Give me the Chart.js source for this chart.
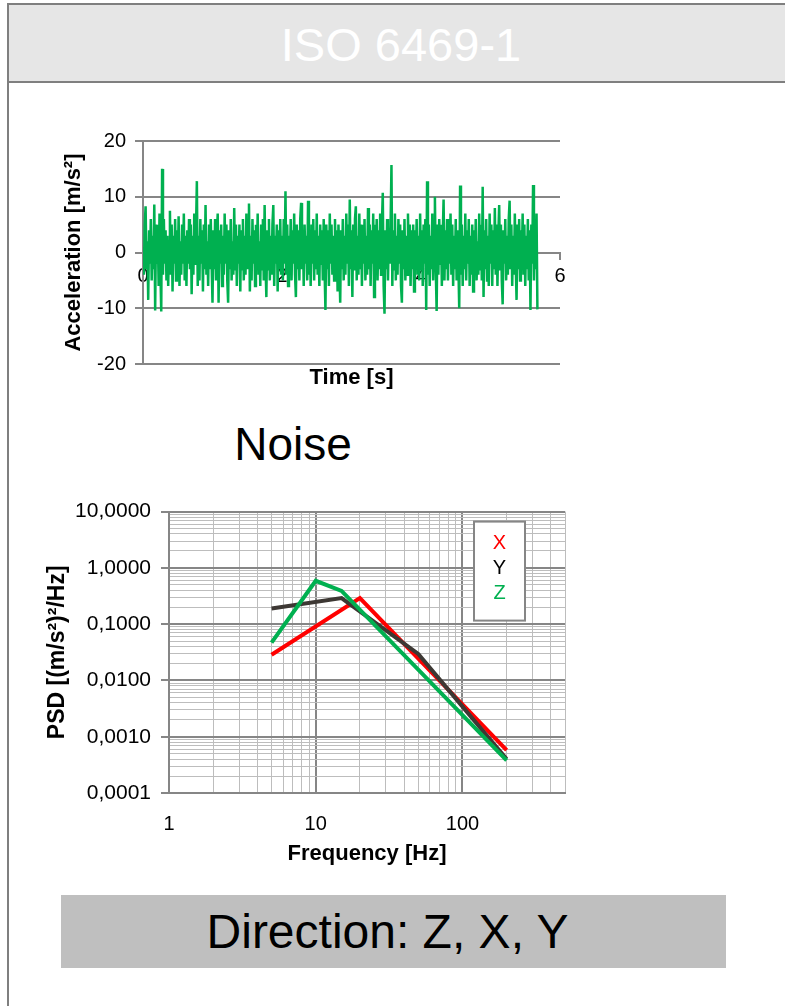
<!DOCTYPE html>
<html>
<head>
<meta charset="utf-8">
<script src="https://cdn.jsdelivr.net/npm/chart.js@4.4.1/dist/chart.umd.min.js"></script>
<style>
body { margin: 0; width: 785px; height: 1006px; overflow: hidden; background: #fff; font-family: "Liberation Sans", Arial, sans-serif; position: relative; }
#frame { position: absolute; left: 7px; top: 3px; width: 800px; height: 1010px; border-left: 2px solid #7f7f7f; border-top: 2px solid #7f7f7f; }
#head { position: absolute; left: 9px; top: 5px; width: 784px; padding-right: 6px; height: 76px; background: #e6e6e6; border-bottom: 2px solid #7f7f7f; color: #fff; font-size: 47px; line-height: 80px; text-align: center; }
#noise { position: absolute; left: 143px; top: 417px; width: 300px; text-align: center; font-size: 46px; color: #000; }
#dir { position: absolute; left: 61px; top: 895px; width: 653px; padding-right: 12px; height: 73px; background: #bfbfbf; font-size: 48px; line-height: 73px; text-align: center; color: #000; }
#timeChart { position: absolute; left: 57px; top: 120px; }
#psdChart { position: absolute; left: 40px; top: 489px; }
</style>
</head>
<body>
<div id="frame"></div>
<div id="head">ISO 6469-1</div>
<canvas id="timeChart" width="518" height="274"></canvas>
<div id="noise">Noise</div>
<canvas id="psdChart" width="544" height="382"></canvas>
<div id="dir">Direction: Z, X, Y</div>

<script>
// DONNEES : SIGNAL TEMPOREL (echantillons tous les 0,0125 s)
var sampleStep = 0.0125;
var accel = [
    1, -4, 5, 8.3, -3, 2, -8.5, 4, -2, 6,
    -5, 3, -3, 8.6, -10.4, 5, -2, 4, -6, 7,
    -3, -10.6, 15, -4, 6, -2, 4, -5, 3, -6,
    2, 7.5, -4, 5, -7, 3, -2, 6, -5, 4,
    -3, 6.5, -6, 2, -4, 5, -2, 7, -5, 3,
    -6, 4, -2, 6, -3, 5, -7.5, 3, -4, 7,
    -2, 4, 12.8, -6, 3, -5, 6, -2, 4, -7,
    5, -3, 8.5, -4, 2, -6, 5, -3, 6, -2,
    -9, 4, -3, 6, -5, 3, 7, -9, 4, -2,
    5, -6, 3, -4, 7, -2, 5, -5, -9, 4,
    -3, 6, -5, 2, -4, 8, -3, 5, -6, 3,
    -2, 5, -7, 4, -3, 6, -5, 3, -4, 7,
    -3, 4, 8.8, -7, 3, -5, 6, -2, 4, -6,
    5, -3, 7, -4, 2, -6, 5, -3, 6, -5,
    8.5, -2, -8, 4, -3, 6, -5, 3, -4, 5,
    8.5, -6, 3, -2, 5, -7, 4, -3, 6, -4,
    3, -5, 6, -2, 11, -4, 5, -6, 3, -3,
    6, -5, 4, -2, 7, -4, -8, 5, -3, 4,
    -5, 6, 8.9, -3, 4, -6, 5, -2, 3, -5,
    9.3, -4, 3, -6, 5, -2, 6, -5, 4, -3,
    7, -4, 3, -6, 5, -2, 4, -5, 6, -3,
    -10.3, 5, -3, 4, -6, 7, -2, 5, -4, 3,
    -5, 6, -3, 4, -7, 5, -2, -9, 4, -3,
    6, -5, 3, -4, 7, -2, 5, -6, 9.5, -3,
    4, -8, 5, -3, 6, 8.3, -5, 3, -4, 7,
    -3, 5, -6, 4, -2, 6, -5, 3, -4, 8,
    -3, 5, -6, 4, -2, 7, -8, 5, -3, 6,
    -5, 4, -3, 7, -4, 5, 10.7, -6, -11, 4,
    -3, 6, -5, 4, -2, 5, 15.7, -6, 4, -3,
    7, -5, 3, -4, 6, -2, 5, -6, -9, 4,
    -3, 6, -5, 3, -4, 7, -2, 5, -6, 4,
    -3, 5, -7, 4, -2, 6, -4, 3, -5, 7,
    -3, 4, -6, 5, -2, 6, -10.3, 12.8, -4, 5,
    -6, 3, -3, 7, -5, 4, 10, -3, -10.5, 5,
    -4, 6, -2, 5, -6, 3, 9.5, -5, 4, -3,
    6, -5, 3, -2, 7, -4, 5, -6, 3, -3,
    6, -5, 4, -2, -10, 12, -4, 5, -6, 3,
    -3, 7, -5, 4, -2, 6, -6, 3, -4, 5,
    -7, 4, -3, 6, -5, 2, -4, 7, -3, 5,
    -5, 11.8, -8, 4, -3, 6, -5, 3, -6, 7,
    -2, 5, -6, 4, -3, 8, -4, 5, -6, 3,
    8.5, -3, 5, -5, -9.3, 4, -2, 6, -5, 3,
    -4, 6, 9.3, -3, 5, -6, 3, -4, 7, -2,
    -8.5, 5, -3, 6, -5, 4, -2, 7, -4, 5,
    -6, 3, -3, 6, -5, 4, -10.3, 5, -2, 12.1,
    -5, 4, -3, 7, -10.2
];

// DONNEES : PSD
var freqX = [5, 20, 200];
var psdX = [0.0286, 0.29, 0.00058];
var freqY = [5, 15, 50, 200];
var psdY = [0.19, 0.29, 0.0295, 0.0004];
var freqZ = [5, 10, 15, 200];
var psdZ = [0.047, 0.59, 0.39, 0.00038];

var psdDecades = [0.0001, 0.001, 0.01, 0.1, 1, 10];
var psdLabels = ["0,0001", "0,0010", "0,0100", "0,1000", "1,0000", "10,0000"];
var freqDecades = [1, 10, 100];
var freqLabels = ["1", "10", "100"];
var freqMax = 500;

Chart.defaults.font.family = "'Liberation Sans', Arial, sans-serif";
Chart.defaults.color = "#000";

var gris = "#868686";
var grisClair = "#bdbdbd";

function toPoints(xs, ys) {
    var pts = [];
    for (var i = 0; i < xs.length; i++) {
        pts.push({ x: xs[i], y: ys[i] });
    }
    return pts;
}

var timePts = [];
for (var i = 0; i < accel.length; i++) {
    timePts.push({ x: i * sampleStep, y: accel[i] });
}

// GRAPHIQUE 1 : ACCELERATION
new Chart(document.getElementById("timeChart"), {
    type: 'scatter',
    data: {
        datasets: [{
            data: timePts,
            showLine: true,
            borderColor: "#00b050",
            borderWidth: 2.5,
            pointRadius: 0,
            xAxisID: 'x',
            yAxisID: 'y'
        }]
    },
    options: {
        responsive: false,
        animation: false,
        layout: { padding: { top: 11, right: 15, bottom: 0, left: 0 } },
        plugins: { legend: { display: false }, tooltip: { enabled: false } },
        scales: {
            x: {
                type: 'linear',
                position: { y: 0 },
                min: 0,
                max: 6,
                z: 1,
                ticks: { stepSize: 2, font: { size: 20 }, padding: 6, maxRotation: 0 },
                grid: { drawOnChartArea: false, drawTicks: true, tickLength: 6, tickColor: gris, lineWidth: 2 },
                border: { color: gris, width: 2 }
            },
            xt: {
                type: 'linear',
                position: 'bottom',
                min: 0,
                max: 6,
                ticks: { display: false },
                grid: { display: false },
                border: { display: false },
                title: { display: true, text: 'Time [s]', font: { size: 22, weight: 'bold' }, padding: { top: 4, bottom: 3 } },
                afterFit: function(scale) { scale.height = 30; }
            },
            y: {
                min: -20,
                max: 20,
                ticks: { stepSize: 10, font: { size: 20 }, padding: 9 },
                grid: { color: gris, lineWidth: 2, tickLength: 8 },
                border: { color: gris, width: 2 },
                title: { display: true, text: 'Acceleration [m/s²]', font: { size: 22, weight: 'bold' }, padding: { top: 4, bottom: 4 } },
                afterFit: function(scale) { scale.width = 86; }
            }
        }
    }
});

// TICKS LOG : DECADES + INTERMEDIAIRES
function logTicks(decades, max) {
    return function(scale) {
        var t = [];
        for (var i = 0; i < decades.length; i++) {
            t.push({ value: decades[i], major: true });
            for (var k = 2; k <= 9; k++) {
                if (decades[i] * k <= max) t.push({ value: decades[i] * k, major: false });
            }
        }
        scale.ticks = t;
    };
}

function logLabel(decades, labels) {
    return function(value) {
        var idx = decades.indexOf(value);
        return idx >= 0 ? labels[idx] : '';
    };
}

function gridColor(ctx) { return ctx.tick && ctx.tick.major ? gris : grisClair; }
function gridWidth(ctx) { return ctx.tick && ctx.tick.major ? 2 : 1; }

// LEGENDE DANS LE GRAPHIQUE
var legendeBox = {
    id: 'legendeBox',
    afterDraw: function(chart) {
        var ctx = chart.ctx;
        var a = chart.chartArea;
        var bx = a.right - 91, by = a.top + 10, bw = 51, bh = 99;
        ctx.save();
        ctx.fillStyle = "#fff";
        ctx.fillRect(bx, by, bw, bh);
        ctx.strokeStyle = gris;
        ctx.lineWidth = 2;
        ctx.strokeRect(bx, by, bw, bh);
        ctx.font = "20px 'Liberation Sans', Arial, sans-serif";
        ctx.textAlign = "center";
        ctx.textBaseline = "middle";
        var ds = chart.data.datasets;
        for (var i = 0; i < ds.length; i++) {
            ctx.fillStyle = ds[i].labelColor;
            ctx.fillText(ds[i].label, bx + bw / 2, by + 22 + i * 25);
        }
        ctx.restore();
    }
};

// GRAPHIQUE 2 : PSD
new Chart(document.getElementById("psdChart"), {
    type: 'scatter',
    data: {
        datasets: [{
            label: 'X',
            labelColor: '#ff0000',
            data: toPoints(freqX, psdX),
            showLine: true,
            borderColor: '#ff0000',
            borderWidth: 4,
            pointRadius: 0,
            order: 3
        }, {
            label: 'Y',
            labelColor: '#000000',
            data: toPoints(freqY, psdY),
            showLine: true,
            borderColor: '#3d3834',
            borderWidth: 4,
            pointRadius: 0,
            order: 2
        }, {
            label: 'Z',
            labelColor: '#00b050',
            data: toPoints(freqZ, psdZ),
            showLine: true,
            borderColor: '#00b050',
            borderWidth: 4,
            pointRadius: 0,
            order: 1
        }]
    },
    options: {
        responsive: false,
        animation: false,
        layout: { padding: { top: 10, right: 10, bottom: 0, left: 0 } },
        plugins: { legend: { display: false }, tooltip: { enabled: false } },
        scales: {
            x: {
                type: 'logarithmic',
                min: 1,
                max: freqMax,
                afterBuildTicks: logTicks(freqDecades, freqMax),
                ticks: { autoSkip: false, maxRotation: 0, font: { size: 20 }, padding: 19, callback: logLabel(freqDecades, freqLabels) },
                grid: { color: gridColor, lineWidth: gridWidth, drawTicks: false },
                border: { color: gris, width: 2 },
                title: { display: true, text: 'Frequency [Hz]', font: { size: 22, weight: 'bold' }, padding: { top: 4, bottom: 4 } },
                afterFit: function(scale) { scale.height = 78; }
            },
            y: {
                type: 'logarithmic',
                min: 0.0001,
                max: 10,
                afterBuildTicks: logTicks(psdDecades, 10),
                ticks: { autoSkip: false, font: { size: 21 }, padding: 10, callback: logLabel(psdDecades, psdLabels) },
                grid: {
                    color: gridColor, lineWidth: gridWidth, tickLength: 8,
                    tickColor: function(ctx) { return ctx.tick && ctx.tick.major ? gris : 'rgba(0,0,0,0)'; }
                },
                border: { color: gris, width: 2 },
                title: { display: true, text: 'PSD [(m/s²)²/Hz]', font: { size: 23, weight: 'bold' }, padding: { top: 4, bottom: 4 } },
                afterFit: function(scale) { scale.width = 129; }
            }
        }
    },
    plugins: [legendeBox]
});
</script>
</body>
</html>
